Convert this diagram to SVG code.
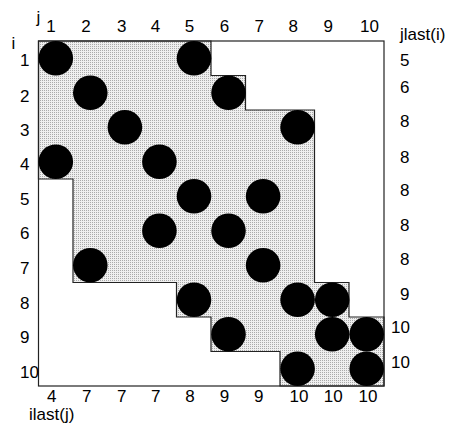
<svg xmlns="http://www.w3.org/2000/svg" width="450" height="423" viewBox="0 0 450 423">
<style>
text{font-family:"Liberation Sans",Arial,sans-serif;font-size:17px;fill:#000}
.c{text-anchor:middle}
.nz{fill:#000}
.edge{stroke:#222;stroke-width:1.2}
.shade{fill:url(#dots)}
.open{fill:none}
</style>
<defs>
<pattern id="dots" width="2" height="2" patternUnits="userSpaceOnUse">
<rect width="2" height="2" fill="#efefef"/>
<rect width="1" height="1" fill="#aaaaaa"/>
</pattern>
</defs>
<rect width="450" height="423" fill="#fff"/>
<g id="connectors">
<path id="envelope" class="edge shade" d="M38.5,41 H211 V75.5 H245.5 V110 H314.5 V282.5 H349 V317 H384 V386 H280 V351.5 H211 V317 H176.5 V282.5 H73 V179 H38.5 Z"/>
<rect id="frame" class="edge open" x="38.5" y="41" width="345.5" height="345"/>
</g>
<g id="nonzeros">
<g id="n1-1"><circle class="nz" cx="55.8" cy="58.25" r="17.3"/></g>
<g id="n1-5"><circle class="nz" cx="194" cy="58.25" r="17.3"/></g>
<g id="n2-2"><circle class="nz" cx="90.3" cy="92.75" r="17.3"/></g>
<g id="n2-6"><circle class="nz" cx="228.5" cy="92.75" r="17.3"/></g>
<g id="n3-3"><circle class="nz" cx="124.9" cy="127.25" r="17.3"/></g>
<g id="n3-8"><circle class="nz" cx="297.6" cy="127.25" r="17.3"/></g>
<g id="n4-1"><circle class="nz" cx="55.8" cy="161.75" r="17.3"/></g>
<g id="n4-4"><circle class="nz" cx="159.4" cy="161.75" r="17.3"/></g>
<g id="n5-5"><circle class="nz" cx="194" cy="196.25" r="17.3"/></g>
<g id="n5-7"><circle class="nz" cx="263.1" cy="196.25" r="17.3"/></g>
<g id="n6-4"><circle class="nz" cx="159.4" cy="230.75" r="17.3"/></g>
<g id="n6-6"><circle class="nz" cx="228.5" cy="230.75" r="17.3"/></g>
<g id="n7-2"><circle class="nz" cx="90.3" cy="265.25" r="17.3"/></g>
<g id="n7-7"><circle class="nz" cx="263.1" cy="265.25" r="17.3"/></g>
<g id="n8-5"><circle class="nz" cx="194" cy="299.75" r="17.3"/></g>
<g id="n8-8"><circle class="nz" cx="297.6" cy="299.75" r="17.3"/></g>
<g id="n8-9"><circle class="nz" cx="332.2" cy="299.75" r="17.3"/></g>
<g id="n9-6"><circle class="nz" cx="228.5" cy="334.25" r="17.3"/></g>
<g id="n9-9"><circle class="nz" cx="332.2" cy="334.25" r="17.3"/></g>
<g id="n9-10"><circle class="nz" cx="366.7" cy="334.25" r="17.3"/></g>
<g id="n10-8"><circle class="nz" cx="297.6" cy="368.75" r="17.3"/></g>
<g id="n10-10"><circle class="nz" cx="366.7" cy="368.75" r="17.3"/></g>
</g>
<g id="col-labels" class="c">
<text x="38.5" y="23">j</text>
<text x="51" y="32">1</text>
<text x="86" y="32">2</text>
<text x="121.7" y="32">3</text>
<text x="155.5" y="32">4</text>
<text x="189.5" y="32">5</text>
<text x="224.5" y="32">6</text>
<text x="259.3" y="32">7</text>
<text x="293.3" y="32">8</text>
<text x="328.3" y="32">9</text>
<text x="369.5" y="32">10</text>
</g>
<g id="row-labels">
<text x="11.5" y="49">i</text>
<text x="20" y="65.7">1</text>
<text x="20" y="101.7">2</text>
<text x="20" y="136">3</text>
<text x="20" y="170">4</text>
<text x="20" y="205">5</text>
<text x="20" y="238.7">6</text>
<text x="20" y="273.7">7</text>
<text x="20" y="308.7">8</text>
<text x="20" y="342.7">9</text>
<text x="20" y="377.7">10</text>
</g>
<g id="jlast-labels">
<text x="400" y="40">jlast(i)</text>
<text x="400" y="65.7">5</text>
<text x="400" y="93">6</text>
<text x="400" y="127">8</text>
<text x="400" y="162.5">8</text>
<text x="400" y="196">8</text>
<text x="400" y="231">8</text>
<text x="400" y="265">8</text>
<text x="400" y="300">9</text>
<text x="391" y="333.3">10</text>
<text x="391" y="368.3">10</text>
</g>
<g id="ilast-labels">
<g class="c">
<text x="51.7" y="402">4</text>
<text x="86.7" y="402">7</text>
<text x="121.7" y="402">7</text>
<text x="155.7" y="402">7</text>
<text x="190" y="402">8</text>
<text x="224.5" y="402">9</text>
<text x="258.8" y="402">9</text>
<text x="299" y="402">10</text>
<text x="333.3" y="402">10</text>
<text x="368" y="402">10</text>
</g>
<text x="29" y="420">ilast(j)</text>
</g>
</svg>
